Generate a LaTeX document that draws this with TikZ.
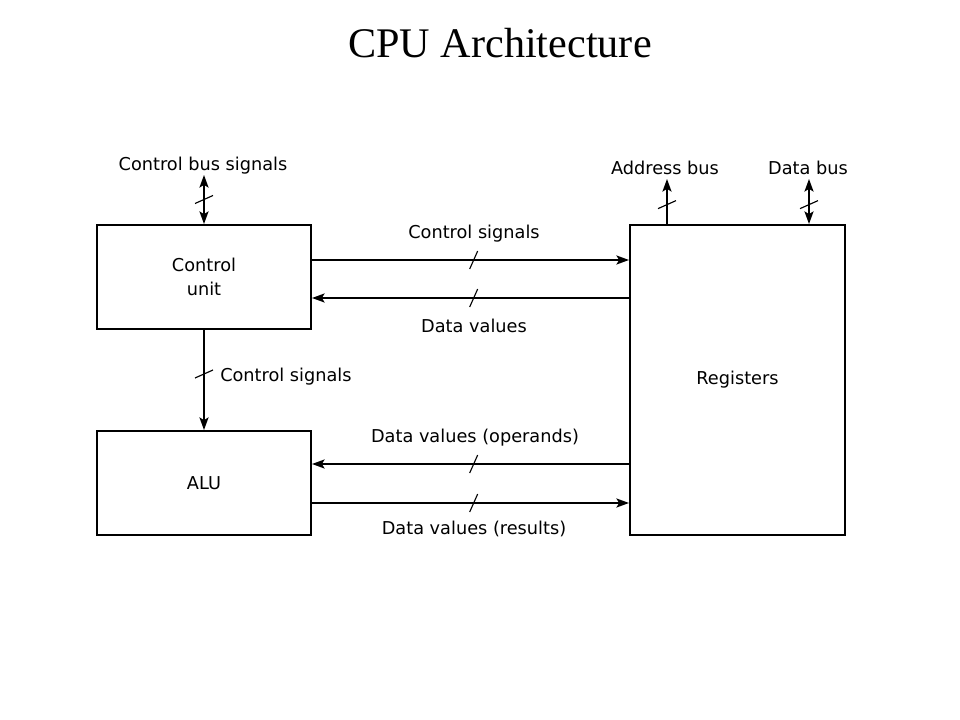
\documentclass[tikz,border=0pt]{standalone}
\usepackage{fontspec}
\setmainfont{Liberation Serif}
\newfontfamily\labelfont{DejaVu Sans}
\usetikzlibrary{shapes,arrows,arrows.meta,calc}
\tikzstyle{line} = [draw, line width=0.95pt, -{Stealth[length=9pt,width=6.5pt,inset=2pt]}]
\tikzstyle{dline} = [draw, line width=0.95pt, {Stealth[length=9pt,width=6.5pt,inset=2pt]}-{Stealth[length=9pt,width=6.5pt,inset=2pt]}]
\tikzstyle{block} = [draw, rectangle, line width=1.4pt, text centered, align=center, minimum width=5.35cm, minimum height=2.6cm, font=\labelfont\fontsize{12.6}{17}\selectfont]
\tikzstyle{lbl} = [anchor=base, inner sep=0pt, font=\labelfont\fontsize{12.6}{15}\selectfont]
\newcommand{\htick}[1]{\draw[line width=0.8pt] ([shift={(-4,9)}]#1) -- ([shift={(4,-9)}]#1);}
\newcommand{\vtick}[1]{\draw[line width=0.8pt] ([shift={(-9,4)}]#1) -- ([shift={(9,-4)}]#1);}

\begin{document}
\begin{tikzpicture}[x=0.025cm, y=-0.025cm]
        \useasboundingbox (0,0) rectangle (960,720);
        \node[anchor=base, font=\fontsize{30}{36}\selectfont] (title) at (500,58) {CPU Architecture};
        % blocks
        \node[block] (cu) at (204,277) {Control\\unit};
        \node[block] (alu) at (204,483) {ALU};
        \node[block, minimum width=5.375cm, minimum height=7.75cm] (reg) at (737.5,380) {Registers};
        % free ends of the buses
        \coordinate (cbus) at (204,175);
        \coordinate (abus) at (667,179);
        \coordinate (dbus) at (809,179);
        % connectors
        \path[dline] (cbus) -- coordinate[pos=.5] (t1) (cu.north);
        \path[line] (abus |- reg.north) -- coordinate[pos=.43] (t2) (abus);
        \path[dline] (dbus |- reg.north) -- coordinate[pos=.43] (t3) (dbus);
        \path[line] (cu.east |- 0,260) -- coordinate[pos=.51] (t4) (reg.west |- 0,260);
        \path[line] (reg.west |- 0,298) -- coordinate[pos=.49] (t5) (cu.east |- 0,298);
        \path[line] (cu.south) -- coordinate[pos=.44] (t6) (alu.north);
        \path[line] (reg.west |- 0,464) -- coordinate[pos=.49] (t7) (alu.east |- 0,464);
        \path[line] (alu.east |- 0,503) -- coordinate[pos=.51] (t8) (reg.west |- 0,503);
        \vtick{t1} \vtick{t2} \vtick{t3} \vtick{t6}
        \htick{t4} \htick{t5} \htick{t7} \htick{t8}
        % labels
        \node[lbl] (lcbus) at (203,171) {Control bus signals};
        \node[lbl] (labus) at (665,175) {Address bus};
        \node[lbl] (ldbus) at (808,175) {Data bus};
        \node[lbl] (lctl) at (474,239) {Control signals};
        \node[lbl] (ldat) at (474,333) {Data values};
        \node[lbl, anchor=base west] (lctlv) at (220,382) {Control signals};
        \node[lbl] (lops) at (475,443) {Data values (operands)};
        \node[lbl] (lres) at (474,535) {Data values (results)};
\end{tikzpicture}
\end{document}
